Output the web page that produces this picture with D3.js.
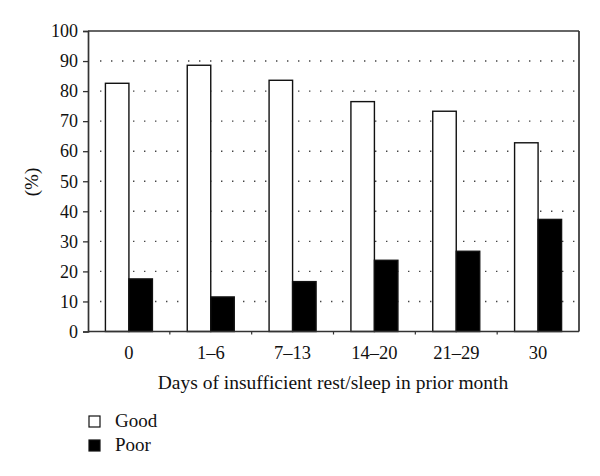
<!DOCTYPE html>
<html><head><meta charset="utf-8">
<script src="https://cdn.jsdelivr.net/npm/d3@7/dist/d3.min.js"></script>
<style>body{margin:0;background:#fff}svg{display:block}text{font-family:"Liberation Serif","DejaVu Serif",serif;fill:#111}</style>
</head><body><svg id="c" width="600" height="476"></svg>
<script>
const categories = ["0","1\u20136","7\u201313","14\u201320","21\u201329","30"];
const good = [82.6, 88.6, 83.6, 76.5, 73.3, 62.8];
const poor = [17.5, 11.5, 16.6, 23.7, 26.7, 37.3];
const seriesNames = ["Good","Poor"];
const yTicks = [0,10,20,30,40,50,60,70,80,90,100];

const svg = d3.select("#c");
const L=88, R=579, T=31, B=331.5;
const x = d3.scaleBand().domain(categories).range([L,R]).paddingInner(0).paddingOuter(0);
const inner = d3.scaleBand().domain(seriesNames).range([0,47]);
const y = d3.scaleLinear().domain([0,100]).range([B,T]);

// grid
svg.append("g").selectAll("line").data(yTicks.filter(d=>d>0&&d<100)).join("line")
  .attr("x1",L+12).attr("x2",R-4).attr("y1",d=>y(d)).attr("y2",d=>y(d))
  .attr("stroke","#444").attr("stroke-width",1.4).attr("stroke-dasharray","1.4,9.6");

// bars
const data = categories.map((c,i)=>({c, vals:[{s:"Good",v:good[i]},{s:"Poor",v:poor[i]}]}));
const g = svg.append("g").selectAll("g").data(data).join("g")
  .attr("transform",d=>`translate(${x(d.c)+x.bandwidth()/2-23.5},0)`);
g.selectAll("rect").data(d=>d.vals).join("rect")
  .attr("x",d=>inner(d.s)).attr("width",inner.bandwidth())
  .attr("y",d=>y(d.v)).attr("height",d=>B-y(d.v))
  .attr("fill",d=>d.s==="Good"?"#fff":"#000")
  .attr("stroke","#111").attr("stroke-width",1.4);

// frame
svg.append("line").attr("x1",L).attr("x2",R).attr("y1",T).attr("y2",T).attr("stroke","#333").attr("stroke-width",1.7);
svg.append("line").attr("x1",R).attr("x2",R).attr("y1",T).attr("y2",B).attr("stroke","#333").attr("stroke-width",1.7);

// y axis
const ya = svg.append("g").attr("transform",`translate(${L},0)`)
  .call(d3.axisLeft(y).tickValues(yTicks).tickSize(5).tickPadding(5).tickFormat(d3.format("d")));
ya.select(".domain").attr("stroke","#333").attr("stroke-width",1.7);
ya.selectAll(".tick line").attr("stroke","#333").attr("stroke-width",1.3);
ya.selectAll("text").attr("font-size","18px").attr("fill","#111").attr("font-family","Liberation Serif, serif");

// x axis
const xa = svg.append("g").attr("transform",`translate(0,${B})`)
  .call(d3.axisBottom(x).tickSize(0).tickPadding(14));
xa.select(".domain").attr("stroke","#333").attr("stroke-width",1.7).attr("d",`M${L},0H${R}`);
xa.selectAll("text").attr("font-size","18.5px").attr("fill","#111").attr("font-family","Liberation Serif, serif");
svg.append("g").selectAll("line").data(categories.slice(1)).join("line")
  .attr("x1",d=>x(d)).attr("x2",d=>x(d)).attr("y1",B).attr("y2",B+3)
  .attr("stroke","#333").attr("stroke-width",1.2);

// labels
svg.append("text").attr("transform","translate(38,182) rotate(-90)").attr("text-anchor","middle")
  .attr("font-size","19px").text("(%)");
svg.append("text").attr("x",333).attr("y",389).attr("text-anchor","middle")
  .attr("font-size","19.5px").text("Days of insufficient rest/sleep in prior month");

// legend
const lg = svg.append("g").selectAll("g").data(seriesNames).join("g")
  .attr("transform",(d,i)=>`translate(89,${416+i*24})`);
lg.append("rect").attr("width",11).attr("height",11)
  .attr("fill",d=>d==="Good"?"#fff":"#000").attr("stroke","#111").attr("stroke-width",1.2);
lg.append("text").attr("x",26).attr("y",11).attr("font-size","19px").text(d=>d);
</script></body></html>
